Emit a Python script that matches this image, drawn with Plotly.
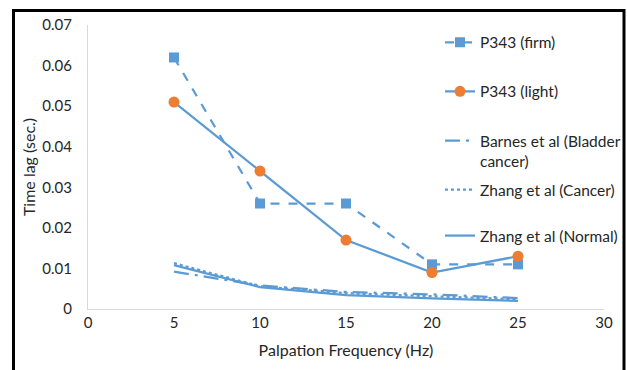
import plotly.graph_objects as go

freq = [5, 10, 15, 20, 25]
firm = [0.062, 0.026, 0.026, 0.011, 0.011]
light = [0.051, 0.034, 0.017, 0.009, 0.013]
barnes = [0.0092, 0.0058, 0.0042, 0.0036, 0.0027]
zhang_cancer = [0.0113, 0.0056, 0.0039, 0.0031, 0.0024]
zhang_normal = [0.0108, 0.0054, 0.0034, 0.0026, 0.0020]

names = ["P343 (firm)", "P343 (light)", "Barnes et al (Bladder<br>cancer)",
         "Zhang et al (Cancer)", "Zhang et al (Normal)"]

BLUE = "#5B9BD5"
ORANGE = "#ED7D31"
FONT = "Lato"
TXT = "#262626"

W, H = 627, 370
L, R, T, B = 88, 23, 25, 61
pw = W - L - R
ph = H - T - B

def px2paper_x(px):
    return (px - L) / pw

def px2paper_y(py):
    return (H - B - py) / ph

fig = go.Figure()
fig.add_trace(go.Scatter(x=freq, y=firm, name=names[0], mode="lines+markers",
                         line=dict(color=BLUE, width=2.25, dash="dash"),
                         marker=dict(symbol="square", size=10, color=BLUE),
                         legend="legend"))
fig.add_trace(go.Scatter(x=freq, y=light, name=names[1], mode="lines+markers",
                         line=dict(color=BLUE, width=2.25),
                         marker=dict(symbol="circle", size=11, color=ORANGE),
                         legend="legend2"))
fig.add_trace(go.Scatter(x=freq, y=barnes, name=names[2], mode="lines",
                         line=dict(color=BLUE, width=2.25, dash="longdashdot"),
                         legend="legend3"))
fig.add_trace(go.Scatter(x=freq, y=zhang_cancer, name=names[3], mode="lines",
                         line=dict(color=BLUE, width=2.25, dash="dot"),
                         legend="legend4"))
fig.add_trace(go.Scatter(x=freq, y=zhang_normal, name=names[4], mode="lines",
                         line=dict(color=BLUE, width=2.25),
                         legend="legend5"))

leg_x = px2paper_x(440)
leg_common = dict(x=leg_x, xanchor="left", yanchor="middle",
                  bgcolor="rgba(0,0,0,0)", borderwidth=0,
                  font=dict(family=FONT, size=15.5, color=TXT))
centers = [42.7, 91.7, 151, 190, 236]
legend_defs = {}
for i, c in enumerate(centers):
    key = "legend" if i == 0 else f"legend{i+1}"
    d = dict(leg_common)
    d["y"] = px2paper_y(c)
    if i == 2:
        d["valign"] = "top"
    legend_defs[key] = d

fig.update_layout(
    width=W, height=H,
    margin=dict(l=L, r=R, t=T, b=B, autoexpand=False),
    paper_bgcolor="white", plot_bgcolor="white",
    font=dict(family=FONT, size=15, color=TXT),
    showlegend=True,
    **legend_defs,
    xaxis=dict(range=[0, 30], dtick=5, tick0=0, showgrid=False, zeroline=False,
               showline=True, linecolor="#D9D9D9", linewidth=1.3, ticks="",
               tickfont=dict(family=FONT, size=15, color=TXT),
               title=dict(text="Palpation Frequency (Hz)", standoff=14,
                          font=dict(family=FONT, size=16, color=TXT))),
    yaxis=dict(range=[0, 0.07], dtick=0.01, tick0=0, showgrid=False, zeroline=False,
               showline=True, linecolor="#D9D9D9", linewidth=1.3, ticks="",
               tickfont=dict(family=FONT, size=15, color=TXT),
               ticklabelstandoff=12,
               title=dict(text="Time lag (sec.)", standoff=2,
                          font=dict(family=FONT, size=16, color=TXT))),
)

fig.add_shape(type="rect", xref="paper", yref="paper",
              x0=px2paper_x(13.5), x1=px2paper_x(624),
              y0=px2paper_y(380), y1=px2paper_y(10.5),
              line=dict(color="black", width=3), fillcolor="rgba(0,0,0,0)",
              layer="above")

fig.write_html("out.html")
